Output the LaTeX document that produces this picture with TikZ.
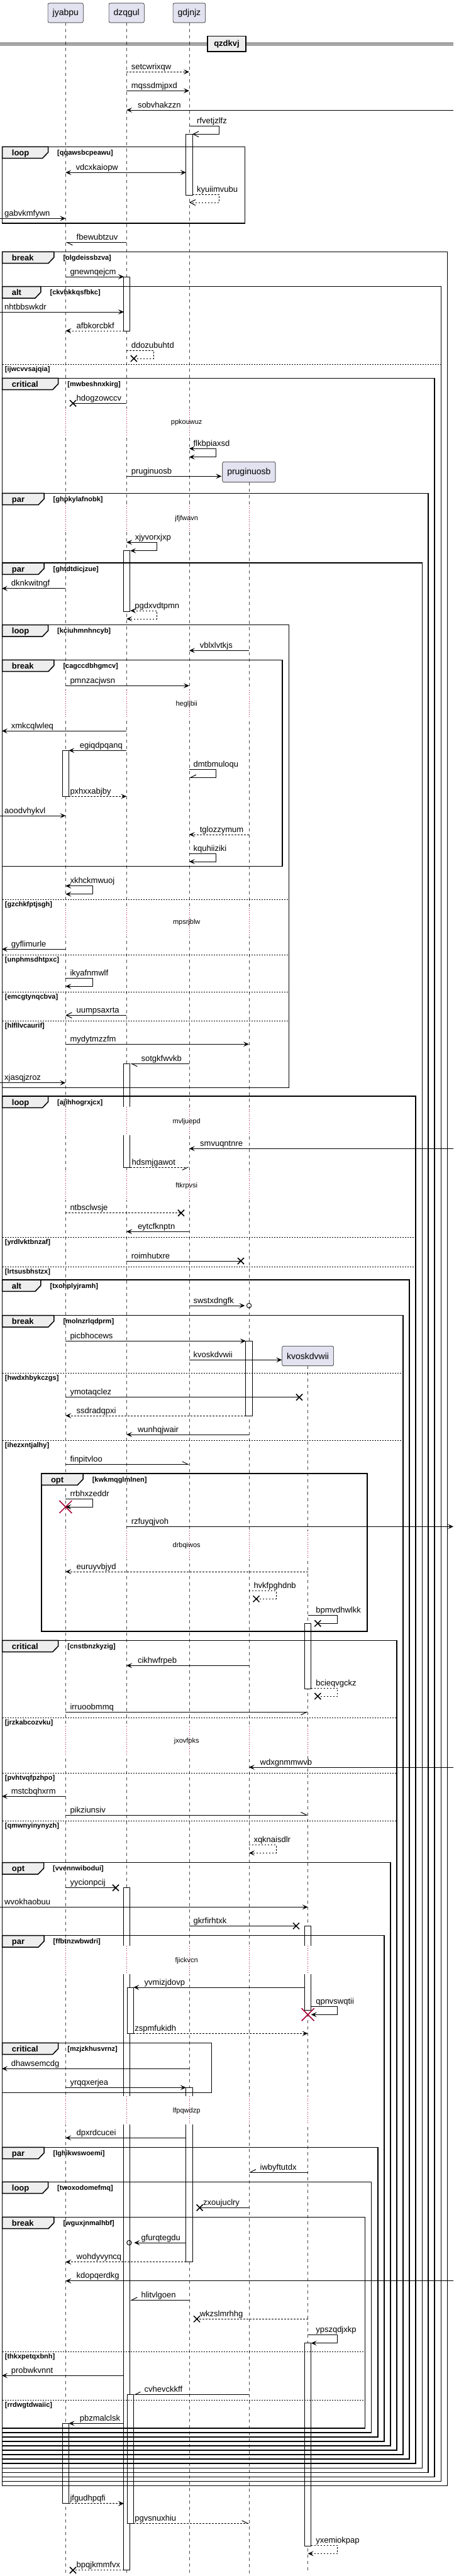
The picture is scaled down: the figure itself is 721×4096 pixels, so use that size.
\documentclass[tikz,border=0pt]{standalone}
\usepackage{fontspec}
\setmainfont{Liberation Sans}
\usetikzlibrary{arrows.meta}

\definecolor{partfill}{HTML}{E2E2F0}
\definecolor{tabfill}{HTML}{EEEEEE}
\definecolor{delayred}{HTML}{A80036}

% lifeline positions
\def\xA{104.3}\def\xB{201.2}\def\xC{300.9}\def\xD{395.9}\def\xE{489.6}

% message: style, from, to, y, label, label x
\def\seqmsg#1#2#3#4#5#6{%
  \coordinate (m-#5-s) at (#2,#4);
  \coordinate (m-#5-e) at (#3,#4);
  \draw[#1] (m-#5-s) -- (m-#5-e);
  \node[lbl] (m-#5) at (#6,#4-4) {#5};
}
% self message: style, from, out, y1, y2, end, label, label x
\def\selfmsg#1#2#3#4#5#6#7#8{%
  \coordinate (m-#7-s) at (#2,#4);
  \coordinate (m-#7-e) at (#6,#5);
  \draw[#1] (m-#7-s) -- (#3,#4) -- (#3,#5) -- (m-#7-e);
  \node[lbl] (m-#7) at (#8,#4-4) {#7};
}
\def\crossat#1#2{\draw[crossline] (#1-5,#2-5) -- (#1+5,#2+5) (#1-5,#2+5) -- (#1+5,#2-5);}
\def\killat#1#2{\draw[killline] (#1-10,#2-10) -- (#1+10,#2+10) (#1-10,#2+10) -- (#1+10,#2-10);}
\def\ringat#1#2{\draw[line width=1pt] (#1,#2) circle[radius=3.7pt];}
\def\delaygap#1#2#3{%
  \foreach \lx in {#3} {
    \draw[white, line width=2pt] (\lx,#2-23) -- (\lx,#2+22);
    \draw[delayline] (\lx,#2-23) -- (\lx,#2+22);
  }
  \node[delaytxt] (d-#1) at (296.7,#2) {#1};
}
% activation bars
\def\actbar#1#2#3{\filldraw[barline, fill=white] (#1-5.1,#2) rectangle (#1+5.1,#3);}
\def\barstart#1#2#3{\fill[white] (#1-5.1,#2) rectangle (#1+5.1,#3);
  \draw[barline] (#1-5.1,#3) -- (#1-5.1,#2) -- (#1+5.1,#2) -- (#1+5.1,#3);}
\def\barend#1#2#3{\fill[white] (#1-5.1,#2) rectangle (#1+5.1,#3);
  \draw[barline] (#1-5.1,#2) -- (#1-5.1,#3) -- (#1+5.1,#3) -- (#1+5.1,#2);}
\def\barmid#1#2#3{\fill[white] (#1-5.1,#2) rectangle (#1+5.1,#3);
  \draw[barline] (#1-5.1,#2) -- (#1-5.1,#3) (#1+5.1,#2) -- (#1+5.1,#3);}
% groups
\def\grpframe#1#2#3#4#5#6#7#8{%
  \draw[frameline] (#2,#3) rectangle (#4,#5);
  \filldraw[tabline] (#2,#3) -- (#2+#7,#3) -- (#2+#7,#3+9) -- (#2+#7-9,#3+18.4) -- (#2,#3+18.4) -- cycle;
  \node[kw] (#1) at (#2+15,#3+14) {#6};
  \node[cond] (#1-c) at (#2+#7+14.5,#3+13) {[#8]};
}
\def\elsesep#1#2#3#4{\draw[sepline] (#1,#3) -- (#2,#3);
  \node[cond] (s-#4) at (#1+4,#3+11) {[#4]};}

\begin{document}
\begin{tikzpicture}[x=1pt, y=-1pt,
  lbl/.style={anchor=base west, inner sep=0pt, font=\fontsize{13}{15}\selectfont},
  kw/.style={anchor=base west, inner sep=0pt, font=\bfseries\fontsize{13}{15}\selectfont},
  cond/.style={anchor=base west, inner sep=0pt, font=\bfseries\fontsize{11}{13}\selectfont},
  delaytxt/.style={inner sep=0pt, font=\fontsize{11}{13}\selectfont},
  part/.style={draw=black!90, fill=partfill, rounded corners=2.5pt, line width=0.6pt,
    minimum height=31pt, inner xsep=7.5pt, font=\fontsize{14}{16}\selectfont},
  divbox/.style={draw, line width=1.5pt, fill=tabfill, minimum width=61pt,
    minimum height=24.7pt, inner sep=0pt, font=\bfseries\fontsize{13}{15}\selectfont},
  lifeline/.style={black!70, line width=0.5pt, dash pattern=on 5pt off 5pt},
  delayline/.style={delayred, line width=0.8pt, dash pattern=on 1pt off 2.5pt},
  barline/.style={line width=0.8pt},
  frameline/.style={line width=1.5pt},
  tabline/.style={line width=1.5pt, fill=tabfill},
  sepline/.style={line width=0.8pt, dash pattern=on 2pt off 2pt},
  msgline/.style={line width=1pt},
  msgdash/.style={line width=1pt, dash pattern=on 2.5pt off 2.5pt},
  crossline/.style={line width=1.5pt},
  killline/.style={line width=1.5pt, delayred},
  fh/.style={-{Stealth[length=9pt,width=8pt,inset=4pt]}},
  bh/.style={{Stealth[length=9pt,width=8pt,inset=4pt]}-{Stealth[length=9pt,width=8pt,inset=4pt]}},
  oh/.style={-{Straight Barb[length=9pt,width=9pt]}},
  hl/.style={-{Straight Barb[harpoon,length=9pt,width=9pt]}},
  hr/.style={-{Straight Barb[harpoon,swap,length=9pt,width=9pt]}}]

 \fill[white] (0,0) rectangle (721,4096);
 \useasboundingbox (0,0) rectangle (721,4096);

 % participants and lifelines
 \node[part] (jyabpu) at (\xA,20.5) {jyabpu};
 \node[part] (dzqgul) at (\xB,20.5) {dzqgul};
 \node[part] (gdjnjz) at (\xC,20.5) {gdjnjz};
 \node[part, minimum height=32.4pt] (pruginuosb) at (\xD,750.5) {pruginuosb};
 \node[part, minimum height=31.4pt] (kvoskdvwii) at (\xE,2156) {kvoskdvwii};
 \coordinate (bottomline) at (0,4092);
 \foreach \p in {jyabpu,dzqgul,gdjnjz,pruginuosb,kvoskdvwii}
   \draw[lifeline] (\p.south) -- (\p.south |- bottomline);

 % delays
 \delaygap{ppkouwuz}{671.7}{\xA,\xB,\xC}
 \delaygap{jfjfwavn}{824.3}{\xA,\xB,\xC,\xD}
 \delaygap{hegljbii}{1120}{\xA,\xB,\xC,\xD}
 \delaygap{mpsrjblw}{1466.7}{\xA,\xB,\xC,\xD}
 \delaygap{mvljuepd}{1783.3}{\xA,\xB,\xC,\xD}
 \delaygap{ftkrpvsi}{1886}{\xA,\xB,\xC,\xD}
 \delaygap{drbqiwos}{2457.3}{\xA,\xB,\xC,\xD,\xE}
 \delaygap{jxovfpks}{2768.3}{\xA,\xB,\xC,\xD,\xE}
 \delaygap{fjickvcn}{3117.3}{\xA,\xB,\xC,\xD,\xE}
 \delaygap{lfpqwdzp}{3356.3}{\xA,\xB,\xC,\xD,\xE}

 % activations
 \actbar{\xC}{213.3}{310}
 \actbar{\xB}{440}{526}
 \actbar{\xB}{875.7}{972.3}
 \actbar{\xA}{1193.3}{1266.3}
 \barstart{\xB}{1691.3}{1760.3} \barend{\xB}{1805.3}{1856}
 \actbar{\xD}{2132.3}{2251}
 \actbar{\xE}{2581.3}{2685}
 \barstart{\xB}{3001.7}{3094.3} \barmid{\xB}{3139.3}{3333.3} \barend{\xB}{3378.3}{4086.7}
 \barstart{\xE}{3062.3}{3094.3} \barend{\xE}{3139.3}{3196.7}
 \actbar{207.2}{3160}{3233.3}
 \barstart{\xC}{3319.3}{3333.3} \barend{\xC}{3378.3}{3596.7}
 \actbar{\xE}{3725.7}{4048.3}
 \actbar{207.2}{3807.7}{4012.3}
 \actbar{\xA}{3853.3}{3980.7}

 % divider
 \draw[line width=1pt] (0,68.3) -- (721,68.3) (0,71.7) -- (721,71.7);
 \node[divbox] (qzdkvj) at (360.5,69.7) {qzdkvj};

 % groups
 \grpframe{fl1}{3.7}{233.3}{389.4}{355}{loop}{72.8}{qqawsbcpeawu}
 \grpframe{fb1}{3.7}{400.3}{711.6}{3952.3}{break}{82.1}{olgdeissbzva}
 \grpframe{fa1}{3.7}{455.7}{701.5}{3945.3}{alt}{61.2}{ckvhkkqsfbkc}
 \elsesep{3.7}{701.5}{579}{ijwcvvsajqia}
 \grpframe{fc1}{3.7}{601.3}{691.2}{3938.3}{critical}{89}{mwbeshnxkirg}
 \grpframe{fp1}{3.7}{784.3}{681}{3931.2}{par}{66.3}{ghpkylafnobk}
 \grpframe{fp2}{3.7}{895}{671.3}{3924.2}{par}{66.3}{ghtdtdicjzue}
 \grpframe{fl2}{3.7}{993.7}{459.4}{1729.3}{loop}{72.8}{kciuhmnhncyb}
 \grpframe{fb2}{3.7}{1049.3}{449.2}{1377.7}{break}{82.1}{cagccdbhgmcv}
 \elsesep{3.7}{459.4}{1430.3}{gzchkfptjsgh}
 \elsesep{3.7}{459.4}{1518.3}{unphmsdhtpxc}
 \elsesep{3.7}{459.4}{1577.3}{emcgtynqcbva}
 \elsesep{3.7}{459.4}{1623.3}{hlfllvcaurif}
 \grpframe{fl3}{3.7}{1743}{661.1}{3917.1}{loop}{72.8}{ajihhogrxjcx}
 \elsesep{3.7}{661.1}{1967.3}{yrdlvktbnzaf}
 \elsesep{3.7}{661.1}{2014}{lrtsusbhstzx}
 \grpframe{fa2}{3.7}{2035}{651}{3910.1}{alt}{61.2}{txohplyjramh}
 \grpframe{fb3}{3.7}{2091.7}{641.2}{3903}{break}{82.1}{molnzrlqdprm}
 \elsesep{3.7}{641.2}{2183.3}{hwdxhbykczgs}
 \elsesep{3.7}{641.2}{2290}{ihezxntjalhy}
 \grpframe{fo1}{65.8}{2343}{584.1}{2594}{opt}{66.3}{kwkmqglmlnen}
 \grpframe{fc2}{3.7}{2608.3}{631}{3896}{critical}{89}{cnstbnzkyzig}
 \elsesep{3.7}{631}{2731}{jrzkabcozvku}
 \elsesep{3.7}{631}{2819}{pvhtvqfpzhpo}
 \elsesep{3.7}{631}{2895}{qmwnyinynyzh}
 \grpframe{fo2}{3.7}{2961.7}{620.8}{3888.9}{opt}{65.8}{vvennwibodui}
 \grpframe{fp3}{3.7}{3077.7}{611}{3881.9}{par}{66.3}{ffbtnzwbwdri}
 \grpframe{fc3}{3.7}{3248.3}{336.6}{3327.3}{critical}{89}{mzjzkhusvrnz}
 \grpframe{fp4}{3.7}{3414.3}{600.8}{3874.8}{par}{66.3}{lghikwswoemi}
 \grpframe{fl4}{3.7}{3469.3}{590.6}{3867.8}{loop}{72.8}{twoxodomefmq}
 \grpframe{fb4}{3.7}{3525.3}{580.4}{3860.7}{break}{82.1}{wguxjnmalhbf}
 \elsesep{3.7}{580.4}{3739.3}{thkxpetqxbnh}
 \elsesep{3.7}{580.4}{3816.3}{rrdwgtdwaiic}

 % messages
 \seqmsg{msgdash,fh}{\xB}{\xC}{114.3}{setcwrixqw}{208.6}
 \seqmsg{msgline,fh}{\xB}{\xC}{144.3}{mqssdmjpxd}{208.6}
 \seqmsg{msgline,fh}{721}{\xB}{175}{sobvhakzzn}{218.8}
 \selfmsg{msgline,oh}{\xC}{348.2}{200.3}{213.3}{306}{rfvetjzlfz}{312.9}
 \seqmsg{msgline,bh}{\xA}{295.8}{274.3}{vdcxkaiopw}{120.5}
 \selfmsg{msgdash,oh}{306}{348.2}{309.3}{322}{\xC}{kyuiimvubu}{312.9}
 \seqmsg{msgline,fh}{0}{\xA}{347.3}{gabvkmfywn}{7}
 \seqmsg{msgline,hl}{\xB}{\xA}{385.3}{fbewubtzuv}{121.5}
 \seqmsg{msgline,fh}{\xA}{197}{440}{gnewnqejcm}{111.3}
 \seqmsg{msgline,fh}{0}{197}{496}{nhtbbswkdr}{7}
 \seqmsg{msgdash,fh}{197}{\xA}{526}{afbkorcbkf}{121.5}
 \selfmsg{msgdash}{\xB}{244.3}{557.3}{570}{212.8}{ddozubuhtd}{208.6}
 \crossat{212.8}{570}
 \seqmsg{msgline}{\xB}{116}{641.3}{hdogzowccv}{121.5}
 \crossat{116}{641.3}
 \selfmsg{msgline,bh}{\xC}{343}{713.3}{726.7}{\xC}{flkbpiaxsd}{307.4}
 \seqmsg{msgline,fh}{\xB}{352.3}{757.3}{pruginuosb}{208.6}
 \selfmsg{msgline,bh}{\xB}{249.4}{862.3}{875.7}{207.2}{xjyvorxjxp}{214.6}
 \seqmsg{msgline,fh}{\xA}{3}{935.7}{dknkwitngf}{17.6}
 \selfmsg{msgdash,bh}{207.2}{249.4}{971}{984}{\xB}{pgdxvdtpmn}{214.2}
 \seqmsg{msgline,fh}{\xD}{\xC}{1034.3}{vblxlvtkjs}{317.6}
 \seqmsg{msgline,fh}{\xA}{\xC}{1090.3}{pmnzacjwsn}{111.3}
 \seqmsg{msgline,fh}{\xB}{3}{1162.3}{xmkcqlwleq}{17.6}
 \seqmsg{msgline,fh}{\xB}{109.4}{1193.3}{egiqdpqanq}{126.6}
 \selfmsg{msgline,hr}{\xC}{343}{1223.3}{1236.3}{\xC}{dmtbmuloqu}{307.4}
 \seqmsg{msgdash,fh}{109.4}{\xB}{1266.3}{pxhxxabjby}{111.3}
 \seqmsg{msgline,fh}{0}{\xA}{1297}{aoodvhykvl}{7}
 \seqmsg{msgdash,fh}{\xD}{\xC}{1327}{tglozzymum}{317.6}
 \selfmsg{msgline,fh}{\xC}{343}{1357.7}{1370}{\xC}{kquhiiziki}{307.4}
 \selfmsg{msgline,bh}{\xA}{147}{1408.7}{1421.7}{\xA}{xkhckmwuoj}{111.3}
 \seqmsg{msgline,fh}{\xA}{3}{1509.3}{gyflimurle}{17.6}
 \selfmsg{msgline,fh}{\xA}{147}{1555.7}{1568.3}{\xA}{ikyafnmwlf}{111.3}
 \seqmsg{msgline,oh}{\xB}{\xA}{1614.3}{uumpsaxrta}{121.5}
 \seqmsg{msgline,fh}{\xA}{\xD}{1660.3}{mydytmzzfm}{111.3}
 \seqmsg{msgline,hl}{\xC}{207.2}{1691.3}{sotgkfwvkb}{224.4}
 \seqmsg{msgline,fh}{0}{\xA}{1721.7}{xjasqjzroz}{7}
 \seqmsg{msgline,fh}{721}{\xC}{1826.3}{smvuqntnre}{318}
 \seqmsg{msgdash,hr}{207.2}{\xC}{1856}{hdsmjgawot}{209.5}
 \seqmsg{msgdash}{\xA}{288}{1928.7}{ntbsclwsje}{111.3}
 \crossat{288}{1928.7}
 \seqmsg{msgline,fh}{\xC}{\xB}{1958.3}{eytcfknptn}{218.8}
 \seqmsg{msgline}{\xB}{383}{2005}{roimhutxre}{208.6}
 \crossat{383}{2005}
 \seqmsg{msgline,fh}{\xC}{389.4}{2076}{swstxdngfk}{307.4}
 \ringat{396}{2076}
 \seqmsg{msgline,fh}{\xA}{390.8}{2132.3}{picbhocews}{111.3}
 \seqmsg{msgline,fh}{\xC}{448.3}{2162.3}{kvoskdvwii}{307.4}
 \seqmsg{msgline}{\xA}{476}{2221.7}{ymotaqclez}{111.3}
 \crossat{476}{2221.7}
 \seqmsg{msgdash,fh}{390.8}{\xA}{2251}{ssdradqpxi}{121.5}
 \seqmsg{msgline,fh}{\xD}{\xB}{2281}{wunhqjwair}{218.8}
 \seqmsg{msgline,hl}{\xA}{\xC}{2328.3}{finpitvloo}{111.3}
 \selfmsg{msgline,fh}{\xA}{147}{2383.3}{2396}{\xA}{rrbhxzeddr}{111.3}
 \killat{\xA}{2396}
 \seqmsg{msgline,fh}{\xB}{721}{2427.3}{rzfuyqjvoh}{208.6}
 \seqmsg{msgdash,fh}{\xE}{\xA}{2499}{euruyvbjyd}{121.5}
 \selfmsg{msgdash}{\xD}{439}{2529.3}{2542.3}{407.5}{hvkfpghdnb}{403.3}
 \crossat{407.5}{2542.3}
 \selfmsg{msgline}{\xE}{536.9}{2568.7}{2581.3}{505.3}{bpmvdhwlkk}{502.1}
 \crossat{505.3}{2581.3}
 \seqmsg{msgline,fh}{\xD}{\xB}{2648.3}{cikhwfrpeb}{218.8}
 \selfmsg{msgdash}{494.7}{536.9}{2684}{2697}{505.3}{bcieqvgckz}{502.1}
 \crossat{505.3}{2697}
 \seqmsg{msgline,hr}{\xA}{\xE}{2722.3}{irruoobmmq}{111.3}
 \seqmsg{msgline,fh}{721}{\xD}{2810}{wdxgnmmwvb}{413.5}
 \seqmsg{msgline,fh}{\xA}{3}{2856.3}{mstcbqhxrm}{17.6}
 \seqmsg{msgline,hl}{\xA}{\xE}{2886}{pikziunsiv}{111.3}
 \selfmsg{msgdash,fh}{\xD}{439}{2933.3}{2946.3}{\xD}{xqknaisdlr}{403.3}
 \seqmsg{msgline}{\xA}{184}{3001.7}{yycionpcij}{111.3}
 \crossat{184}{3001.7}
 \seqmsg{msgline,fh}{0}{\xE}{3032.3}{wvokhaobuu}{7}
 \seqmsg{msgline}{\xC}{471}{3062.3}{gkrfirhtxk}{307.4}
 \crossat{471}{3062.3}
 \seqmsg{msgline,fh}{484.5}{212.3}{3160}{yvmizjdovp}{229.5}
 \selfmsg{msgline,fh}{494.7}{536.9}{3190.7}{3203.3}{494.7}{qpnvswqtii}{502.1}
 \killat{\xE}{3203.3}
 \seqmsg{msgdash,fh}{212.3}{\xE}{3233.3}{zspmfukidh}{214.2}
 \seqmsg{msgline,fh}{\xC}{3}{3289.3}{dhawsemcdg}{17.6}
 \seqmsg{msgline,fh}{\xA}{295.8}{3319.3}{yrqqxerjea}{111.3}
 \seqmsg{msgline,fh}{295.8}{\xA}{3399.3}{dpxrdcucei}{121.5}
 \seqmsg{msgline,hr}{\xE}{\xD}{3454}{iwbyftutdx}{413.5}
 \seqmsg{msgline}{\xD}{317.6}{3510.3}{zxoujuclry}{323}
 \crossat{317.6}{3510.3}
 \seqmsg{msgline,fh}{295.8}{213.3}{3566}{gfurqtegdu}{224.4}
 \ringat{205.4}{3566}
 \seqmsg{msgdash,fh}{295.8}{\xA}{3596.7}{wohdyvyncq}{121.5}
 \seqmsg{msgline,fh}{721}{\xA}{3626.7}{kdopqerdkg}{121.5}
 \seqmsg{msgline,hr}{\xC}{207.2}{3657.3}{hlitvlgoen}{224.4}
 \seqmsg{msgdash}{\xE}{313}{3687.3}{wkzslmrhhg}{317.6}
 \crossat{313}{3687.3}
 \selfmsg{msgline,fh}{\xE}{536.9}{3712.7}{3725.7}{494.7}{ypszqdjxkp}{502.1}
 \seqmsg{msgline,fh}{197}{3}{3777.3}{probwkvnnt}{17.6}
 \seqmsg{msgline,hr}{\xD}{212.3}{3807.7}{cvhevckkff}{229.5}
 \seqmsg{msgline,fh}{197}{109.4}{3853.3}{pbzmalclsk}{126.6}
 \seqmsg{msgdash,fh}{109.4}{197}{3980.7}{jfgudhpqfi}{111.3}
 \seqmsg{msgdash,hl}{212.3}{\xD}{4012.3}{pgvsnuxhiu}{214.2}
 \selfmsg{msgdash,fh}{494.7}{536.9}{4047.3}{4060.3}{\xE}{yxemiokpap}{502.1}
 \seqmsg{msgdash}{197}{116}{4086.7}{bpqjkmmfvx}{121.5}
 \crossat{116}{4086.7}
\end{tikzpicture}
\end{document}
